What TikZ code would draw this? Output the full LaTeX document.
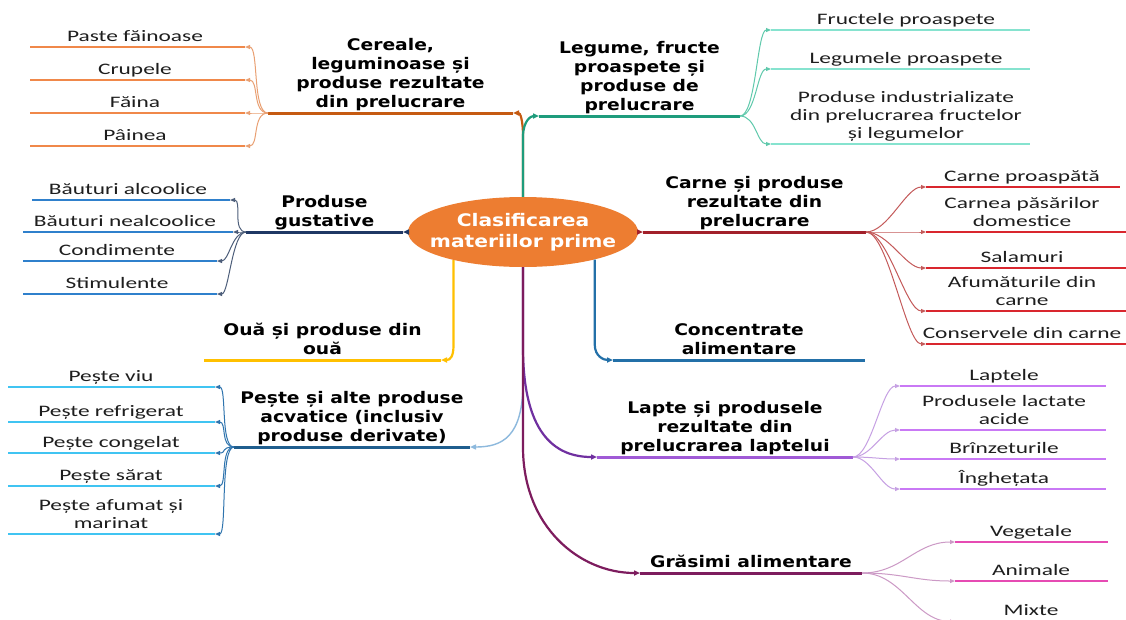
\documentclass[tikz,border=0pt]{standalone}
\usepackage{fontspec}
\newfontfamily\leaffont{Carlito}[FakeStretch=1.46]
\newfontfamily\titlefont{DejaVu Sans}[FakeStretch=1.17]
\usepackage{xcolor}
\usepackage{tikz}
\usetikzlibrary{calc,arrows.meta,shapes.geometric}
\definecolor{rootorange}{HTML}{ED7D31}
\definecolor{cermain}{HTML}{C55A11}
\definecolor{cerleaf}{HTML}{F0884A}
\definecolor{cerfan}{HTML}{E9A073}
\definecolor{legmain}{HTML}{1E9C7C}
\definecolor{legleaf}{HTML}{86E3CF}
\definecolor{legfan}{HTML}{5FC9AC}
\definecolor{gusmain}{HTML}{1F3864}
\definecolor{gusleaf}{HTML}{2F80CC}
\definecolor{gusfan}{HTML}{4D5E7A}
\definecolor{ouamain}{HTML}{FFC000}
\definecolor{pesconn}{HTML}{8DB9DD}
\definecolor{pesmain}{HTML}{1F5E8E}
\definecolor{pesleaf}{HTML}{40C4F2}
\definecolor{pesfan}{HTML}{2F74AE}
\definecolor{carmain}{HTML}{A2202A}
\definecolor{carleaf}{HTML}{D9262E}
\definecolor{carfan}{HTML}{C45A5A}
\definecolor{conmain}{HTML}{2370A8}
\definecolor{lapconn}{HTML}{7030A0}
\definecolor{lapmain}{HTML}{A05AD6}
\definecolor{lapleaf}{HTML}{C979F5}
\definecolor{lapfan}{HTML}{C6A0E3}
\definecolor{gramain}{HTML}{7D1C5E}
\definecolor{graleaf}{HTML}{E64BB3}
\definecolor{grafan}{HTML}{CC9AC6}
\definecolor{leaftext}{HTML}{1E1E1E}
\tikzset{
  conn/.style={-{Triangle[length=6pt,width=5pt]},line width=2.2pt},
  mainline/.style={line width=3pt},
  leafline/.style={line width=2.8pt},
  fan/.style={-{Triangle[length=5pt,width=4pt]},line width=1pt},
  title/.style={font=\titlefont\bfseries\fontsize{16}{19}\selectfont,align=center,anchor=south,inner sep=0pt,execute at end node=\strut},
  leaf/.style={font=\leaffont\fontsize{16}{18}\selectfont,text=leaftext,align=center,anchor=south,inner sep=0pt,execute at end node=\strut},
  rootshape/.style={ellipse,fill=rootorange,minimum width=230pt,minimum height=70pt,inner sep=0pt},
  roottext/.style={font=\titlefont\bfseries\fontsize{17.3}{21}\selectfont,text=white,align=center}
}

\begin{document}
\begin{tikzpicture}[x=1pt,y=-1pt]
\path[use as bounding box,fill=white] (0,0) rectangle (1126,619);

\node[rootshape] (root) at (523,232) {};
\node[roottext] (root-t) at (root.center) {Clasificarea\\materiilor prime};

% cereale
\coordinate (cer-a) at (513,113); \coordinate (cer-b) at (268,113);
\draw[conn,cermain] (root.north) -- ++(0,-60) .. controls +(0,-18) and +(7,0) .. (cer-a);
\draw[mainline,cermain] (cer-a) -- (cer-b);
\node[title] (cer) at ($(cer-a)!0.5!(cer-b)$) {Cereale,\\leguminoase și\\produse rezultate\\din prelucrare};
\foreach \y/\t [count=\i] in {47/Paste făinoase,80/Crupele,113/Făina,146/Pâinea}{
  \coordinate (cer-\i) at (245,\y);
  \draw[leafline,cerleaf] (cer-\i) -- ++(-215,0);
  \node[leaf] (cer-t\i) at ($(cer-\i)+(-110,0)$) {\t};
  \draw[fan,cerfan] (cer-b) .. controls +(-16,0) and +(14,0) .. (cer-\i);
}

% legume
\coordinate (leg-a) at (539,116); \coordinate (leg-b) at (740,116);
\draw[conn,legmain] (root.north) -- ++(0,-60) .. controls +(0,-16) and +(-8,0) .. (leg-a);
\draw[mainline,legmain] (leg-a) -- (leg-b);
\node[title] (leg) at ($(leg-a)!0.5!(leg-b)$) {Legume, fructe\\proaspete și\\produse de\\prelucrare};
\foreach \y/\t [count=\i] in {30/Fructele proaspete,69/Legumele proaspete,144/{Produse industrializate\\din prelucrarea fructelor\\și legumelor}}{
  \coordinate (leg-\i) at (771,\y);
  \draw[leafline,legleaf] (leg-\i) -- ++(259,0);
  \node[leaf] (leg-t\i) at ($(leg-\i)+(135,0)$) {\t};
  \draw[fan,legfan] (leg-b) .. controls +(16,0) and +(-14,0) .. (leg-\i);
}

% gustative
\coordinate (gus-a) at (403,232); \coordinate (gus-b) at (246,232);
\draw[conn,gusmain] (root.west) -- (gus-a);
\draw[mainline,gusmain] (gus-a) -- (gus-b);
\node[title] (gus) at ($(gus-a)!0.5!(gus-b)$) {Produse\\gustative};
\foreach \y/\lx/\rx/\t [count=\i] in {200/32/230/Băuturi alcoolice,232/23/233/Băuturi nealcoolice,261/23/217/Condimente,294/23/217/Stimulente}{
  \coordinate (gus-\i) at (\rx,\y);
  \draw[leafline,gusleaf] (gus-\i) -- (\lx,\y);
  \node[leaf] (gus-t\i) at ({(\lx+\rx)/2-3},\y) {\t};
  \draw[fan,gusfan] (gus-b) .. controls +(-14,0) and +(12,0) .. (gus-\i);
}

% oua
\coordinate (oua-a) at (441,360); \coordinate (oua-b) at (204,360);
\draw[conn,ouamain] (root.202) -- ++(0,85) .. controls +(0,12) and +(9,0) .. (oua-a);
\draw[mainline,ouamain] (oua-a) -- (oua-b);
\node[title] (oua) at ($(oua-a)!0.5!(oua-b)$) {Ouă și produse din\\ouă};

% peste
\coordinate (pes-a) at (470,447); \coordinate (pes-b) at (234,447);
\draw[conn,pesconn,line width=1.4pt] (root.south) -- ++(0,115) .. controls +(0,55) and +(32,0) .. (pes-a);
\draw[mainline,pesmain] (pes-a) -- (pes-b);
\node[title] (pes) at ($(pes-a)!0.5!(pes-b)$) {Pește și alte produse\\acvatice (inclusiv\\produse derivate)};
\foreach \y/\t [count=\i] in {387/Pește viu,422/Pește refrigerat,453/Pește congelat,486/Pește sărat,534/{Pește afumat și\\marinat}}{
  \coordinate (pes-\i) at (215,\y);
  \draw[leafline,pesleaf] (pes-\i) -- ++(-207,0);
  \node[leaf] (pes-t\i) at ($(pes-\i)+(-104,0)$) {\t};
  \draw[fan,pesfan] (pes-b) .. controls +(-14,0) and +(12,0) .. (pes-\i);
}

% carne
\coordinate (car-a) at (643,232); \coordinate (car-b) at (866,232);
\draw[conn,carmain] (root.east) -- (car-a);
\draw[mainline,carmain] (car-a) -- (car-b);
\node[title] (car) at ($(car-a)!0.5!(car-b)$) {Carne și produse\\rezultate din\\prelucrare};
\foreach \y/\rx/\t [count=\i] in {187/1120/Carne proaspătă,232/1126/{Carnea păsărilor\\domestice},268/1126/Salamuri,311/1126/{Afumăturile din\\carne},344/1126/Conservele din carne}{
  \coordinate (car-\i) at (926,\y);
  \draw[leafline,carleaf] (car-\i) -- (\rx,\y);
  \node[leaf] (car-t\i) at (1022,\y) {\t};
  \draw[fan,carfan] (car-b) .. controls +(22,0) and +(-20,0) .. (car-\i);
}

% concentrate
\coordinate (con-a) at (613,360); \coordinate (con-b) at (865,360);
\draw[conn,conmain] (root.-21) -- ++(0,85) .. controls +(0,12) and +(-9,0) .. (con-a);
\draw[mainline,conmain] (con-a) -- (con-b);
\node[title] (con) at ($(con-a)!0.5!(con-b)$) {Concentrate\\alimentare};

% lapte
\coordinate (lap-a) at (597,457); \coordinate (lap-b) at (853,457);
\draw[conn,lapconn] (root.south) -- ++(0,80) .. controls +(0,75) and +(-50,0) .. (lap-a);
\draw[mainline,lapmain] (lap-a) -- (lap-b);
\node[title] (lap) at ($(lap-a)!0.5!(lap-b)$) {Lapte și produsele\\rezultate din\\prelucrarea laptelui};
\foreach \y/\t [count=\i] in {386/Laptele,430/{Produsele lactate\\acide},459/Brînzeturile,489/Înghețata}{
  \coordinate (lap-\i) at (900,\y);
  \draw[leafline,lapleaf] (lap-\i) -- ++(206,0);
  \node[leaf] (lap-t\i) at ($(lap-\i)+(104,0)$) {\t};
  \draw[fan,lapfan] (lap-b) .. controls +(18,0) and +(-18,0) .. (lap-\i);
}

% grasimi
\coordinate (gra-a) at (640,573); \coordinate (gra-b) at (862,573);
\draw[conn,gramain] (root.south) -- ++(0,180) .. controls +(0,80) and +(-60,0) .. (gra-a);
\draw[mainline,gramain] (gra-a) -- (gra-b);
\node[title] (gra) at ($(gra-a)!0.5!(gra-b)$) {Grăsimi alimentare};
\foreach \y/\t [count=\i] in {542/Vegetale,581/Animale,621.5/Mixte}{
  \coordinate (gra-\i) at (955,\y);
  \draw[leafline,graleaf] (gra-\i) -- ++(153,0);
  \node[leaf] (gra-t\i) at ($(gra-\i)+(76,0)$) {\t};
  \draw[fan,grafan] (gra-b) .. controls +(40,0) and +(-40,0) .. (gra-\i);
}
\end{tikzpicture}
\end{document}
